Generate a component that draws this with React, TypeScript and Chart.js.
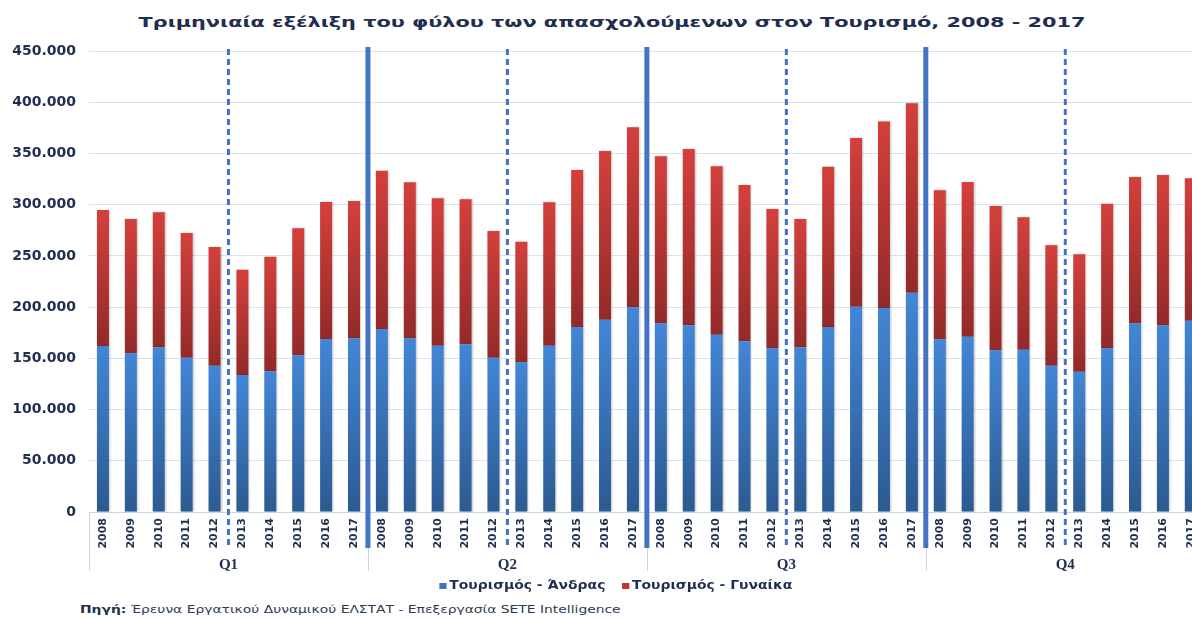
import React, { useEffect, useRef } from 'react';
import { Chart, registerables } from 'chart.js';

Chart.register(...registerables);

const titleText = 'Τριμηνιαία εξέλιξη του φύλου των απασχολούμενων στον Τουρισμό, 2008 - 2017';
const years = ['2008', '2009', '2010', '2011', '2012', '2013', '2014', '2015', '2016', '2017'];
const quarters = ['Q1', 'Q2', 'Q3', 'Q4'];
const seriesNames = ['Τουρισμός - Άνδρας', 'Τουρισμός - Γυναίκα'];

const menQ1 = [162000, 155000, 160800, 150600, 142800, 133700, 137300, 153000, 168900, 169500];
const womenQ1 = [132800, 131000, 131700, 121700, 115900, 102800, 111900, 123900, 133700, 134100];
const menQ2 = [178600, 169500, 162300, 163700, 150600, 146100, 162300, 180600, 187700, 199800];
const womenQ2 = [154600, 152300, 143900, 141500, 123700, 117700, 140000, 153200, 164700, 175700];
const menQ3 = [184200, 182200, 173100, 166600, 159800, 160800, 180600, 200400, 199100, 214100];
const womenQ3 = [163000, 172100, 164300, 152600, 136000, 125200, 156400, 164600, 182200, 184800];
const menQ4 = [168600, 171100, 157800, 158400, 142800, 136900, 159800, 183900, 182200, 186800];
const womenQ4 = [145400, 151000, 140900, 129200, 117500, 114600, 141100, 143100, 146800, 138900];

const yMax = 450000;
const yStep = 50000;

const men = [...menQ1, ...menQ2, ...menQ3, ...menQ4];
const women = [...womenQ1, ...womenQ2, ...womenQ3, ...womenQ4];
const labels = quarters.flatMap(() => years);

const NAVY = '#1f2d4f';
const BLUE_TOP = '#4286d6';
const BLUE_BOTTOM = '#2c5a91';
const RED_TOP = '#d4403c';
const RED_BOTTOM = '#922a29';
const LINE_BLUE = '#4472c4';
const GRID = '#d8e3f1';

const fmt = (v: number) => String(v).replace(/\B(?=(\d{3})+(?!\d))/g, '.');

const shade = (top: string, bottom: string, lower: (i: number) => number, upper: (i: number) => number) => (c: any) => {
  const chart = c.chart;
  const y = chart.scales && chart.scales.y;
  if (!y || c.type !== 'data') return top;
  const i = c.dataIndex;
  const y0 = y.getPixelForValue(upper(i));
  const y1 = y.getPixelForValue(lower(i));
  if (!isFinite(y0) || !isFinite(y1) || Math.abs(y1 - y0) < 1) return top;
  const g = chart.ctx.createLinearGradient(0, y0, 0, y1);
  g.addColorStop(0, top);
  g.addColorStop(1, bottom);
  return g;
};

const linesPlugin = {
  id: 'quarterLines',
  beforeDatasetsDraw(chart: any) {
    const ctx = chart.ctx;
    ctx.save();
    ctx.shadowColor = 'rgba(0,0,0,0.22)';
    ctx.shadowBlur = 2;
    ctx.shadowOffsetX = 1;
    ctx.shadowOffsetY = 0;
  },
  afterDatasetsDraw(chart: any) {
    chart.ctx.restore();
  },
  afterDraw(chart: any) {
    const { ctx, chartArea } = chart;
    const x = chart.scales.x;
    const x2 = chart.scales.x2;
    const n = years.length;
    ctx.save();
    ctx.strokeStyle = '#c9d7ea';
    ctx.lineWidth = 1;
    for (let q = 0; q <= quarters.length; q++) {
      const px = Math.round(x.getPixelForValue(q * n - 0.5)) + 0.5;
      ctx.beginPath();
      ctx.moveTo(px, chartArea.bottom);
      ctx.lineTo(px, x2.bottom - 5);
      ctx.stroke();
    }
    ctx.strokeStyle = LINE_BLUE;
    ctx.lineWidth = 5;
    for (let q = 1; q < quarters.length; q++) {
      const px = x.getPixelForValue(q * n - 0.5);
      ctx.beginPath();
      ctx.moveTo(px, chartArea.top - 4);
      ctx.lineTo(px, x.bottom - 4);
      ctx.stroke();
    }
    ctx.lineWidth = 3;
    ctx.setLineDash([6, 4]);
    for (let q = 0; q < quarters.length; q++) {
      const px = x.getPixelForValue(q * n + 4.5);
      ctx.beginPath();
      ctx.moveTo(px, chartArea.top - 2);
      ctx.lineTo(px, x.bottom - 4);
      ctx.stroke();
    }
    ctx.restore();
  },
};

export default function App() {
  const ref = useRef<HTMLCanvasElement | null>(null);

  useEffect(() => {
    if (!ref.current) return;
    const chart = new Chart(ref.current, {
      type: 'bar',
      data: {
        labels,
        datasets: [
          {
            label: seriesNames[0],
            data: men,
            backgroundColor: shade(BLUE_TOP, BLUE_BOTTOM, () => 0, (i) => men[i]),
            barPercentage: 0.43,
            categoryPercentage: 1,
          },
          {
            label: seriesNames[1],
            data: women,
            backgroundColor: shade(RED_TOP, RED_BOTTOM, (i) => men[i], (i) => men[i] + women[i]),
            barPercentage: 0.43,
            categoryPercentage: 1,
          },
        ],
      },
      options: {
        responsive: false,
        animation: false,
        devicePixelRatio: 1,
        layout: { padding: { top: 51, left: 0, right: 0, bottom: 4 } },
        plugins: {
          legend: { display: false },
          title: { display: false },
          tooltip: { enabled: false },
        },
        scales: {
          x: {
            stacked: true,
            weight: 0,
            grid: { display: false, drawTicks: false },
            border: { display: true, color: '#c5d5ea', width: 1 },
            ticks: {
              minRotation: 90,
              maxRotation: 90,
              autoSkip: false,
              padding: 6,
              color: NAVY,
              font: { family: 'DejaVu Sans', weight: 'bold', size: 11 },
            },
            afterFit: (s: any) => { s.height = 40; },
          },
          x2: {
            type: 'category',
            labels: quarters,
            position: 'bottom',
            offset: true,
            weight: 1,
            grid: { display: false, drawTicks: false },
            border: { display: false },
            ticks: {
              maxRotation: 0,
              padding: 4,
              color: NAVY,
              font: { family: 'Liberation Serif', weight: 'bold', size: 15 },
            },
            afterFit: (s: any) => { s.height = 24; },
          },
          y: {
            stacked: true,
            min: 0,
            max: yMax,
            grid: { color: GRID, lineWidth: 1, drawTicks: false },
            border: { display: false },
            ticks: {
              stepSize: yStep,
              padding: 13,
              color: NAVY,
              font: { family: 'DejaVu Sans', weight: 'bold', size: 14 },
              callback: (v: any) => fmt(Number(v)),
            },
            afterFit: (s: any) => { s.width = 89; },
          },
        },
      },
      plugins: [linesPlugin],
    });
    return () => chart.destroy();
  }, []);

  return (
    <div style={{ position: 'fixed', left: 0, top: 0, width: 1192, height: 618, overflow: 'hidden', background: '#fff', fontFamily: '"DejaVu Sans", Verdana, sans-serif' }}>
      <div style={{ position: 'absolute', left: 0, top: 13, width: 1224, textAlign: 'center', fontSize: 14, lineHeight: '18px', fontWeight: 'bold', color: NAVY, whiteSpace: 'nowrap', transform: 'scaleX(1.486)', transformOrigin: '612px 0' }}>
        {titleText}
      </div>
      <canvas ref={ref} width={1210} height={580} style={{ position: 'absolute', left: 0, top: 0, width: 1210, height: 580 }} />
      <div style={{ position: 'absolute', left: 0, top: 578, width: 1232, textAlign: 'center', fontSize: 11.5, lineHeight: '14px', fontWeight: 'bold', color: NAVY, whiteSpace: 'nowrap', transform: 'scaleX(1.21)', transformOrigin: '616px 0' }}>
        <span style={{ display: 'inline-block', width: 6, height: 6, background: '#3b74bd', marginRight: 2, verticalAlign: 'middle' }} />
        <span>{seriesNames[0]}</span>
        <span style={{ display: 'inline-block', width: 14 }} />
        <span style={{ display: 'inline-block', width: 6, height: 6, background: '#c0332f', marginRight: 2, verticalAlign: 'middle' }} />
        <span>{seriesNames[1]}</span>
      </div>
      <div style={{ position: 'absolute', left: 80, top: 603, fontSize: 11, lineHeight: '14px', color: '#2e3b55', whiteSpace: 'nowrap', transform: 'scaleX(1.26)', transformOrigin: '0 0' }}>
        <span style={{ fontWeight: 'bold', color: NAVY }}>Πηγή:</span> Έρευνα Εργατικού Δυναμικού ΕΛΣΤΑΤ - Επεξεργασία SETE Intelligence
      </div>
    </div>
  );
}
